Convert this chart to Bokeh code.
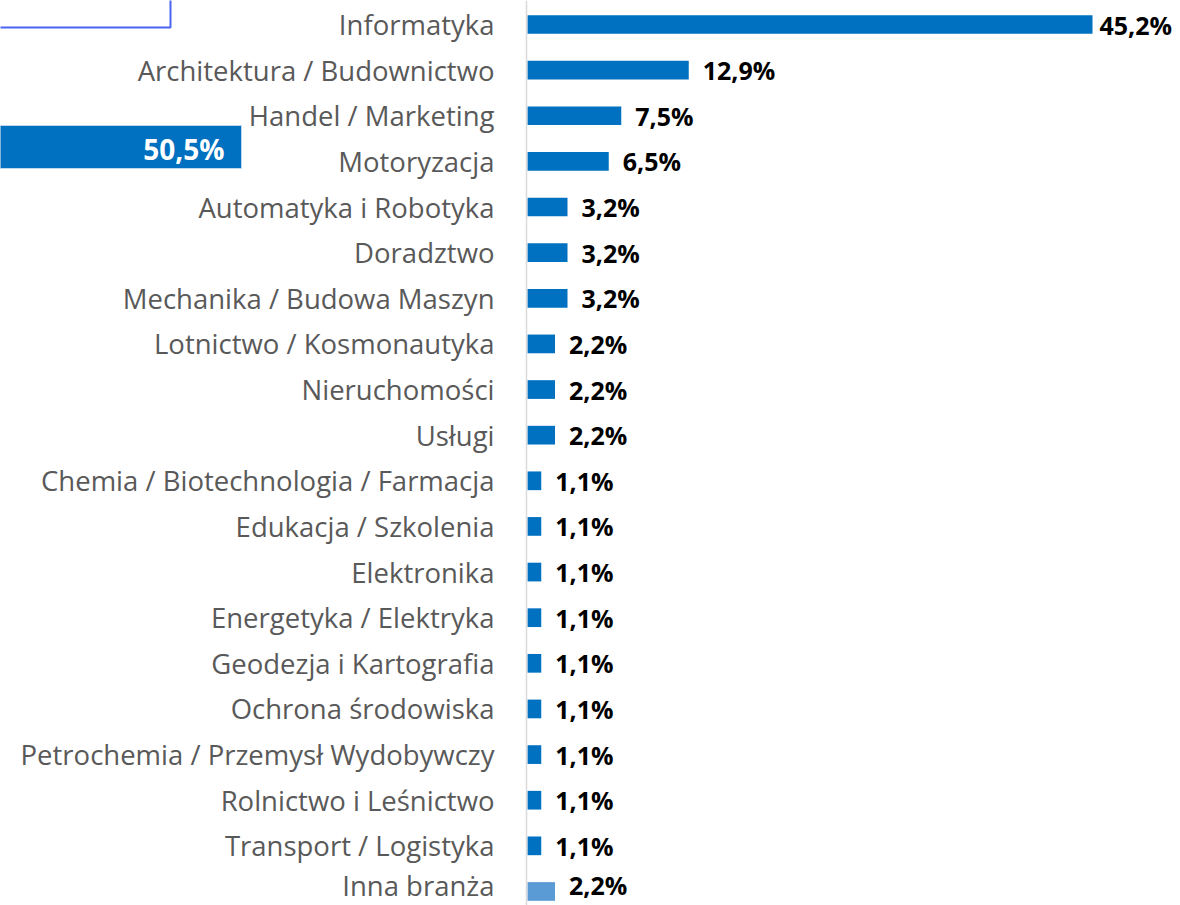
from bokeh.plotting import figure
from bokeh.models import ColumnDataSource, Span, Range1d
from bokeh.core.properties import value
from bokeh.embed import file_html
from bokeh.resources import INLINE
import numpy as np

categories = [
    "Informatyka",
    "Architektura / Budownictwo",
    "Handel / Marketing",
    "Motoryzacja",
    "Automatyka i Robotyka",
    "Doradztwo",
    "Mechanika / Budowa Maszyn",
    "Lotnictwo / Kosmonautyka",
    "Nieruchomości",
    "Usługi",
    "Chemia / Biotechnologia / Farmacja",
    "Edukacja / Szkolenia",
    "Elektronika",
    "Energetyka / Elektryka",
    "Geodezja i Kartografia",
    "Ochrona środowiska",
    "Petrochemia / Przemysł Wydobywczy",
    "Rolnictwo i Leśnictwo",
    "Transport / Logistyka",
    "Inna branża",
]
values = [45.2, 12.9, 7.5, 6.5, 3.2, 3.2, 3.2, 2.2, 2.2, 2.2,
          1.1, 1.1, 1.1, 1.1, 1.1, 1.1, 1.1, 1.1, 1.1, 2.2]
callout_value = 50.5

MAIN = "#0070C0"
OTHER = "#5B9BD5"
FONT = "Open Sans"

W, H = 1180, 905
ZERO_PX = 527          # image x of value 0
PX_PER_UNIT = 12.5
ROW0_PX = 24           # image y of first row centre
ROW_STEP = 45.63


def dx(px):
    return (px - ZERO_PX) / PX_PER_UNIT


def dy(py):
    return (py - ROW0_PX) / ROW_STEP


def fmt(v):
    return f"{v:.1f}".replace(".", ",") + "%"


n = len(categories)
ypos = np.arange(n)
colors = [OTHER if c == "Inna branża" else MAIN for c in categories]
vmax = max(values)
offsets = [7 if v == vmax else 14 for v in values]
# keep the bottom row's text inside the canvas
yoffs = [-6 if i == n - 1 else 0 for i in range(n)]

src = ColumnDataSource(dict(
    y=ypos, v=values, cat=categories, color=colors,
    lab=[fmt(v) for v in values], off=offsets, yoff=yoffs,
))

p = figure(width=W, height=H, output_backend="svg", toolbar_location=None,
           x_range=Range1d(dx(0), dx(W)),
           y_range=Range1d(dy(H), dy(0)),
           x_axis_location=None, y_axis_location=None, min_border=0)
p.outline_line_color = None
p.xgrid.visible = False
p.ygrid.visible = False
p.background_fill_color = "white"

# axis line
p.add_layout(Span(location=dx(526), dimension="height",
                  line_color="#D9D9D9", line_width=1.5))

p.hbar(y="y", left=0, right="v", height=0.41, fill_color="color",
       line_color=None, source=src)

p.text(x="v", y="y", text="lab", x_offset="off", y_offset="yoff", source=src,
       text_font=value(FONT), text_font_style="bold", text_font_size="25px",
       text_color="#000000", text_align="left", text_baseline="middle")

p.text(x=0, y="y", text="cat", x_offset=-33, y_offset="yoff", source=src,
       text_font=value(FONT), text_font_size="27.5px",
       text_color="#595959", text_align="right", text_baseline="middle")

# partial elements at top left (cropped from neighbouring content)
p.quad(left=dx(-20), right=dx(170), top=dy(-20), bottom=dy(27),
       fill_color=None, line_color="#4A63F0", line_width=2)
p.quad(left=dx(-20), right=dx(241), top=dy(125), bottom=dy(168),
       fill_color=MAIN, line_color="#BDD7EE", line_width=1)
p.text(x=[dx(224)], y=[dy(148)], text=[fmt(callout_value)],
       text_font=value(FONT), text_font_style="bold", text_font_size="28px",
       text_color="white", text_align="right", text_baseline="middle")

open("out.html", "w").write(file_html(p, INLINE))
